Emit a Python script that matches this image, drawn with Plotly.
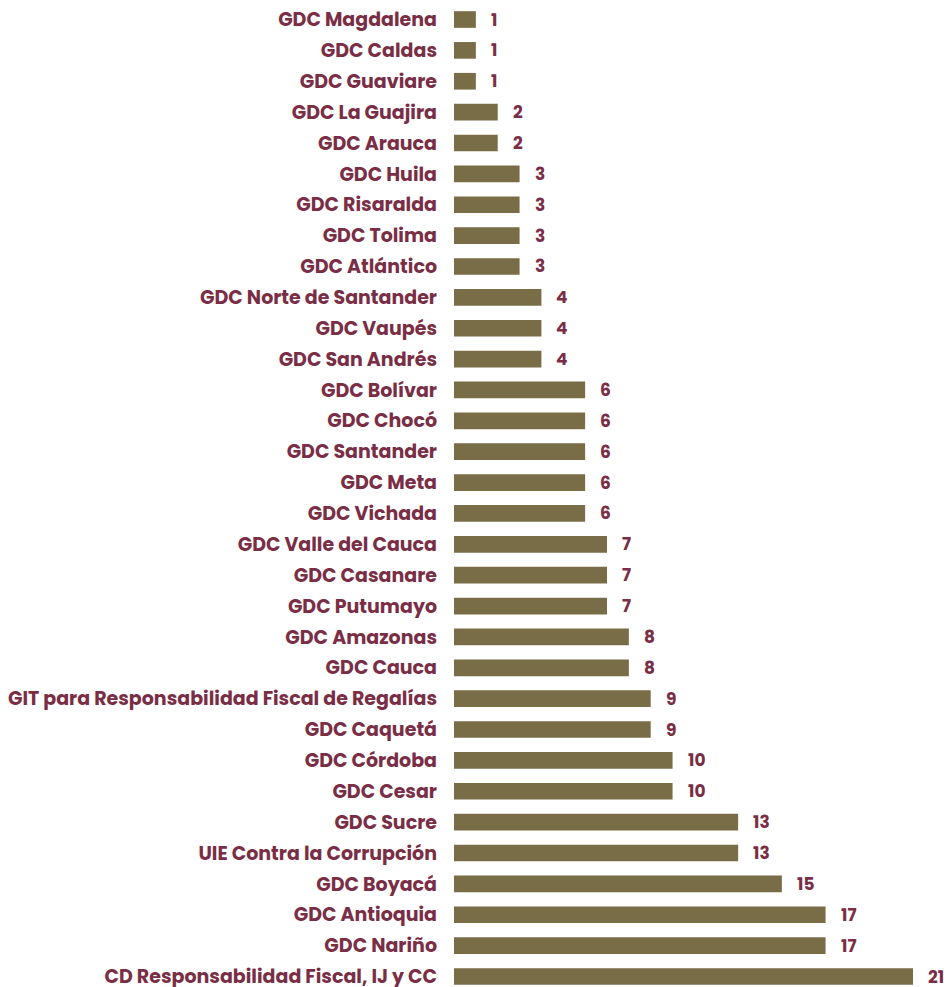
import plotly.graph_objects as go

categories = [
    "GDC Magdalena", "GDC Caldas", "GDC Guaviare", "GDC La Guajira", "GDC Arauca",
    "GDC Huila", "GDC Risaralda", "GDC Tolima", "GDC Atlántico",
    "GDC Norte de Santander", "GDC Vaupés", "GDC San Andrés",
    "GDC Bolívar", "GDC Chocó", "GDC Santander", "GDC Meta", "GDC Vichada",
    "GDC Valle del Cauca", "GDC Casanare", "GDC Putumayo",
    "GDC Amazonas", "GDC Cauca",
    "GIT para Responsabilidad Fiscal de Regalías", "GDC Caquetá",
    "GDC Córdoba", "GDC Cesar", "GDC Sucre", "UIE Contra la Corrupción",
    "GDC Boyacá", "GDC Antioquia", "GDC Nariño",
    "CD Responsabilidad Fiscal, IJ y CC",
]
values = [1, 1, 1, 2, 2, 3, 3, 3, 3, 4, 4, 4, 6, 6, 6, 6, 6, 7, 7, 7,
          8, 8, 9, 9, 10, 10, 13, 13, 15, 17, 17, 21]

BAR = "#786d46"
TEXT = "#7a2e45"
FONT = "Poppins, Inter, sans-serif"

fig = go.Figure(go.Bar(
    x=values, y=categories, orientation="h",
    marker=dict(color=BAR, line=dict(width=0)),
    width=0.54, hoverinfo="x+y",
))

# value labels just past the end of each bar
for c, v in zip(categories, values):
    fig.add_annotation(x=v, y=c, text=f"<b>{v}</b>", showarrow=False,
                       xanchor="left", xshift=13,
                       font=dict(family=FONT, size=17, color=TEXT))

fig.update_layout(
    width=947, height=987,
    margin=dict(l=454, r=34, t=0, b=0, autoexpand=False),
    paper_bgcolor="white", plot_bgcolor="white",
    showlegend=False,
    xaxis=dict(range=[0, 21], visible=False, fixedrange=True),
    yaxis=dict(type="category", categoryorder="array", categoryarray=categories,
               range=[31.34, -0.632], showgrid=False, zeroline=False,
               showline=False, ticks="", ticklabelstandoff=16, automargin=False,
               tickfont=dict(family=FONT, size=19, color=TEXT, weight="bold")),
)

fig.write_html("out.html")
